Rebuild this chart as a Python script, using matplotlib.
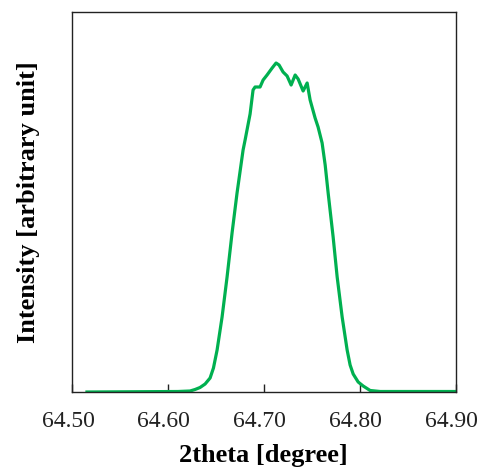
import matplotlib
matplotlib.use("Agg")
import matplotlib.pyplot as plt
import matplotlib.transforms as mtransforms
from matplotlib.ticker import FormatStrFormatter

two_theta = [64.5156, 64.6106, 64.6231, 64.6283, 64.6335, 64.6388, 64.6440, 64.6475,
             64.6513, 64.6565, 64.6617, 64.6669, 64.6721, 64.6784, 64.6805, 64.6857,
             64.6888, 64.6909, 64.6961, 64.6993, 64.7034, 64.7087, 64.7128, 64.7159,
             64.7201, 64.7243, 64.7285, 64.7327, 64.7358, 64.7410, 64.7452, 64.7483,
             64.7535, 64.7566, 64.7608, 64.7640, 64.7671, 64.7723, 64.7765, 64.7817,
             64.7869, 64.7900, 64.7932, 64.7984, 64.8036, 64.8109, 64.8213, 64.9000]
intensity = [0, 0.5, 1, 2.5, 4.5, 8, 14, 24,
             42, 75, 115, 159, 199, 242, 252, 278,
             302, 305, 305, 312, 317, 324, 329, 327,
             320, 316, 307, 317, 313, 301, 309, 292,
             274, 265, 249, 227, 199, 155, 115, 75,
             42, 27, 18, 10, 6, 1.5, 0.5, 0.5]
xticks = [64.50, 64.60, 64.70, 64.80, 64.90]

fig = plt.figure(figsize=(4.81, 4.68), dpi=100)
ax = fig.add_axes([72/481, 1-392/468, (455.6-72)/481, (392-12)/468])
ax.plot(two_theta, intensity, color="#00B050", lw=2.3, solid_joinstyle="round")
ax.set_xlim(64.50, 64.90)
ax.set_ylim(0, 380)
ax.set_xticks(xticks)
ax.xaxis.set_major_formatter(FormatStrFormatter("%.2f"))
ax.set_yticks([])
ax.tick_params(axis="x", direction="in", length=6, width=1, pad=14,
               labelsize=17, labelfontfamily="Liberation Serif", colors="#222222")
shift = mtransforms.ScaledTranslation(-4/100, 0, fig.dpi_scale_trans)
for lab in ax.get_xticklabels():
    lab.set_transform(lab.get_transform() + shift)
for s in ax.spines.values():
    s.set_linewidth(1)
    s.set_color("#222222")
ax.set_xlabel("2theta [degree]", fontsize=19, fontweight="bold",
              family="Liberation Serif", labelpad=8)
ax.set_ylabel("Intensity [arbitrary unit]", fontsize=19, fontweight="bold",
              family="Liberation Serif", labelpad=23)
fig.savefig("out.png", dpi=100)
